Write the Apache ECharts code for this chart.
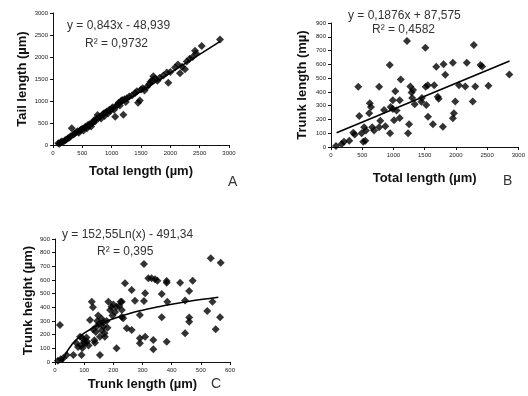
<!DOCTYPE html>
<html>
<head>
<meta charset="utf-8">
<script src="https://cdn.jsdelivr.net/npm/echarts@6/dist/echarts.min.js"></script>
<style>
  html, body { margin: 0; padding: 0; background: #fff; }
  #chart { width: 528px; height: 396px; }
</style>
</head>
<body>
<div id="chart"></div>
<script>
// panel A: total length vs tail length
var tailPoints = [
  [90,40],[110,30],[130,60],[150,80],[170,70],[200,100],[220,120],[250,150],[280,170],[300,200],
  [320,380],[350,240],[370,260],[400,290],[420,310],[440,280],[460,330],[480,350],[500,370],[520,330],
  [540,400],[560,420],[580,380],[600,460],[610,430],[630,480],[650,420],[670,500],[690,520],[700,560],
  [720,540],[740,600],[760,680],[780,620],[800,640],[820,600],[850,700],[870,720],[880,660],[900,740],
  [920,760],[940,720],[960,800],[980,780],[1000,830],[1020,860],[1040,800],[1060,640],[1080,880],[1100,920],
  [1120,960],[1140,900],[1160,1000],[1180,1020],[1200,690],[1220,1040],[1240,980],[1260,1060],[1300,1100],[1350,1130],
  [1400,1180],[1430,1220],[1450,960],[1480,1010],[1500,1260],[1530,1290],[1560,1240],[1600,1320],[1640,1380],[1660,1430],
  [1690,1470],[1710,1560],[1740,1510],[1780,1460],[1820,1530],[1880,1580],[1940,1650],[1966,1416],[2000,1660],[2080,1760],
  [2130,1830],[2165,1630],[2200,1780],[2250,1720],[2280,1900],[2330,1960],[2380,2000],[2420,2143],[2440,2080],[2534,2250],
  [2847,2400]
];
var tailTrend = [[80,20],[2850,2354]];

// panel B: total length vs trunk length
var trunkPoints = [
  [80,7],[170,22],[207,39],[292,46],[356,104],[380,90],[452,225],[436,438],[490,99],[516,39],
  [550,46],[530,143],[560,120],[612,245],[622,317],[640,290],[660,143],[690,120],[771,438],[771,143],
  [790,190],[850,268],[870,150],[941,595],[955,290],[946,100],[990,275],[990,340],[1010,195],[1030,405],
  [1050,265],[1100,210],[1117,490],[1100,340],[1234,99],[1250,165],[1217,770],[1270,440],[1290,395],[1300,355],
  [1511,721],[1314,414],[1340,310],[1447,329],[1455,355],[1516,438],[1550,448],[1525,305],[1553,220],[1633,165],
  [1653,448],[1686,583],[1710,365],[1725,350],[1792,147],[1803,600],[1830,525],[1952,612],[1952,208],[1968,245],
  [1990,330],[2050,448],[2175,612],[2150,440],[2287,740],[2270,330],[2310,440],[2394,595],[2420,585],[2521,445],
  [2856,527]
];
var trunkTrend = [[90,104],[2860,624]];

// panel C: trunk length vs trunk height
var heightPoints = [
  [17,271],[10,10],[20,20],[28,27],[40,51],[63,51],[91,51],[154,51],[211,100],[74,137],
  [79,110],[86,185],[94,175],[94,102],[103,137],[108,180],[120,307],[126,441],[130,400],[131,237],
  [137,141],[143,260],[148,340],[152,280],[154,185],[160,233],[160,317],[166,260],[171,185],[177,300],
  [183,441],[189,380],[194,405],[197,340],[206,365],[211,405],[229,441],[229,380],[229,330],[240,576],
  [263,527],[274,449],[305,717],[309,503],[305,447],[291,344],[246,247],[263,235],[291,173],[291,137],
  [309,185],[320,612],[331,612],[343,605],[351,595],[337,161],[337,93],[366,498],[366,327],[383,593],
  [383,580],[385,441],[383,149],[429,580],[446,210],[446,450],[460,520],[460,325],[460,295],[472,595],
  [522,373],[534,759],[540,440],[551,239],[566,327],[568,727],
  [110,150],[115,120],[140,220],[145,300],[165,290],[170,210],[180,250],[200,420],[220,410],[225,440],
  [135,160],[100,150],[90,120],[234,320]
];
var heightTrend = [
  [25,0],[40,72],[60,133],[80,177],[100,211],[150,273],[200,317],[250,351],
  [300,379],[350,402],[400,423],[450,441],[500,457],[560,474]
];

var font = '"Liberation Sans", Arial, sans-serif';

function makeAxis(idx, max, interval, name, gap) {
  return {
    type: 'value', gridIndex: idx, min: 0, max: max, interval: interval,
    name: name, nameLocation: 'middle', nameGap: gap,
    nameTextStyle: { fontFamily: font, fontWeight: 'bold', fontSize: 13, color: '#111' },
    splitLine: { show: false },
    axisLine: { show: true, onZero: false, lineStyle: { color: '#111', width: 1 } },
    axisTick: { show: true, length: 3, lineStyle: { color: '#111' } },
    axisLabel: {
      fontFamily: font, fontSize: 6, color: '#222', margin: 5,
      formatter: function (v) { return String(v); }
    }
  };
}

function scatter(idx, data) {
  return {
    type: 'scatter', xAxisIndex: idx, yAxisIndex: idx, data: data,
    symbol: 'diamond', symbolSize: 8, itemStyle: { color: '#000' }, silent: true
  };
}

function trend(idx, data, smooth) {
  return {
    type: 'line', xAxisIndex: idx, yAxisIndex: idx, data: data, smooth: smooth,
    showSymbol: false, lineStyle: { color: '#000', width: 1.6 }, silent: true, z: 3
  };
}

function label(x, y, text, size) {
  return {
    type: 'text', left: x, top: y,
    style: { text: text, fontFamily: font, fontSize: size || 12, fill: '#333' }
  };
}

var chart = echarts.init(document.getElementById('chart'));
chart.setOption({
  animation: false,
  backgroundColor: '#fff',
  grid: [
    { left: 53, top: 13, width: 176, height: 132 },
    { left: 331, top: 23, width: 188, height: 124 },
    { left: 55, top: 239, width: 175, height: 123 }
  ],
  xAxis: [
    makeAxis(0, 3000, 500, 'Total length (\u00b5m)', 20),
    makeAxis(1, 3000, 500, 'Total length (\u00b5m)', 25),
    makeAxis(2, 600, 100, 'Trunk length (\u00b5m)', 16)
  ],
  yAxis: [
    makeAxis(0, 3000, 500, 'Tail length (\u00b5m)', 24),
    makeAxis(1, 900, 100, 'Trunk length (m\u00b5)', 22),
    makeAxis(2, 900, 100, 'Trunk height (\u00b5m)', 20)
  ],
  series: [
    scatter(0, tailPoints), trend(0, tailTrend, false),
    scatter(1, trunkPoints), trend(1, trunkTrend, false),
    scatter(2, heightPoints), trend(2, heightTrend, true)
  ],
  graphic: [
    label(67, 20, 'y = 0,843x - 48,939'),
    label(85, 38, 'R\u00b2 = 0,9732'),
    label(348, 10, 'y = 0,1876x + 87,575'),
    label(372, 24, 'R\u00b2 = 0,4582'),
    label(62, 229, 'y = 152,55Ln(x) - 491,34'),
    label(97, 246, 'R\u00b2 = 0,395'),
    label(228, 175, 'A', 14),
    label(503, 174, 'B', 14),
    label(211, 377, 'C', 14)
  ]
});
</script>
</body>
</html>
